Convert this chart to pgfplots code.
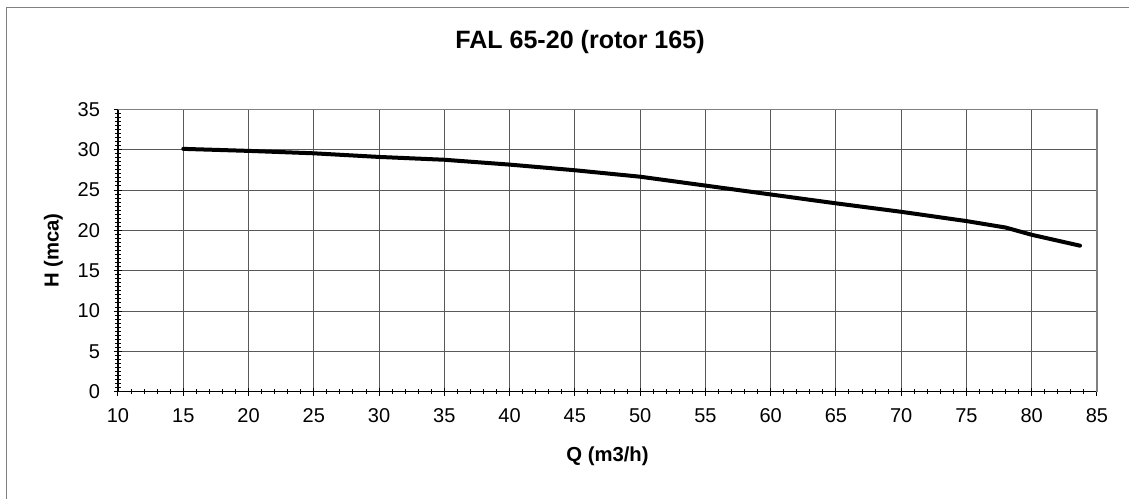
\documentclass[border=0pt]{standalone}
\usepackage{pgfplots}
\pgfplotsset{compat=1.18}
\usepackage{fontspec}
\setmainfont{Liberation Sans}
\begin{document}
\begin{tikzpicture}
\useasboundingbox (-88.5pt,-80.5pt) rectangle (758.25pt,293.8pt);
\draw[black!50, line width=0.75pt] (-83.25pt,-80.5pt) -- (-83.25pt,288.5pt) -- (758.25pt,288.5pt);
\begin{axis}[
  at={(0pt,0pt)}, anchor=south west,
  scale only axis, width=734.25pt, height=211.8pt,
  xmin=10, xmax=85, ymin=0, ymax=35,
  xtick={10,15,...,85}, ytick={0,5,...,35},
  minor x tick num=4, minor y tick num=9,
  axis x line*=bottom, axis y line*=left,
  axis line style={line width=0.9pt, -},
  tick align=center,
  major tick length=6pt, minor tick length=4pt,
  every tick/.style={black, line width=0.75pt},
  grid=major,
  major grid style={black!65, line width=0.75pt},
  /pgf/number format/assume math mode=true,
  ticklabel style={font=\fontsize{15}{18}\selectfont},
  xticklabel style={yshift=-6pt},
  yticklabel style={xshift=-7pt},
  clip=false,
]
\draw[black!50, line width=1.1pt] (rel axis cs:0,1) -- (rel axis cs:1,1) -- (rel axis cs:1,0);
\addplot[black, line width=3pt, line join=round, line cap=round] coordinates {
(15,30.1) (20,29.85) (25,29.55) (30,29.1) (35,28.75) (40,28.15) (45,27.45)
(50,26.65) (55,25.55) (60,24.45) (65,23.35) (70,22.3) (75,21.15) (78,20.35)
(80,19.45) (83.7,18.1)
};
\end{axis}
\node[font=\bfseries\fontsize{18.8}{22}\selectfont] at (346.5pt,262.3pt) {FAL 65-20 (rotor 165)};
\node[font=\bfseries\fontsize{15.2}{18}\selectfont] at (367.1pt,-48.75pt) {Q (m3/h)};
\node[font=\bfseries\fontsize{15.2}{18}\selectfont, rotate=90] at (-48.4pt,105.9pt) {H (mca)};
\end{tikzpicture}
\end{document}
